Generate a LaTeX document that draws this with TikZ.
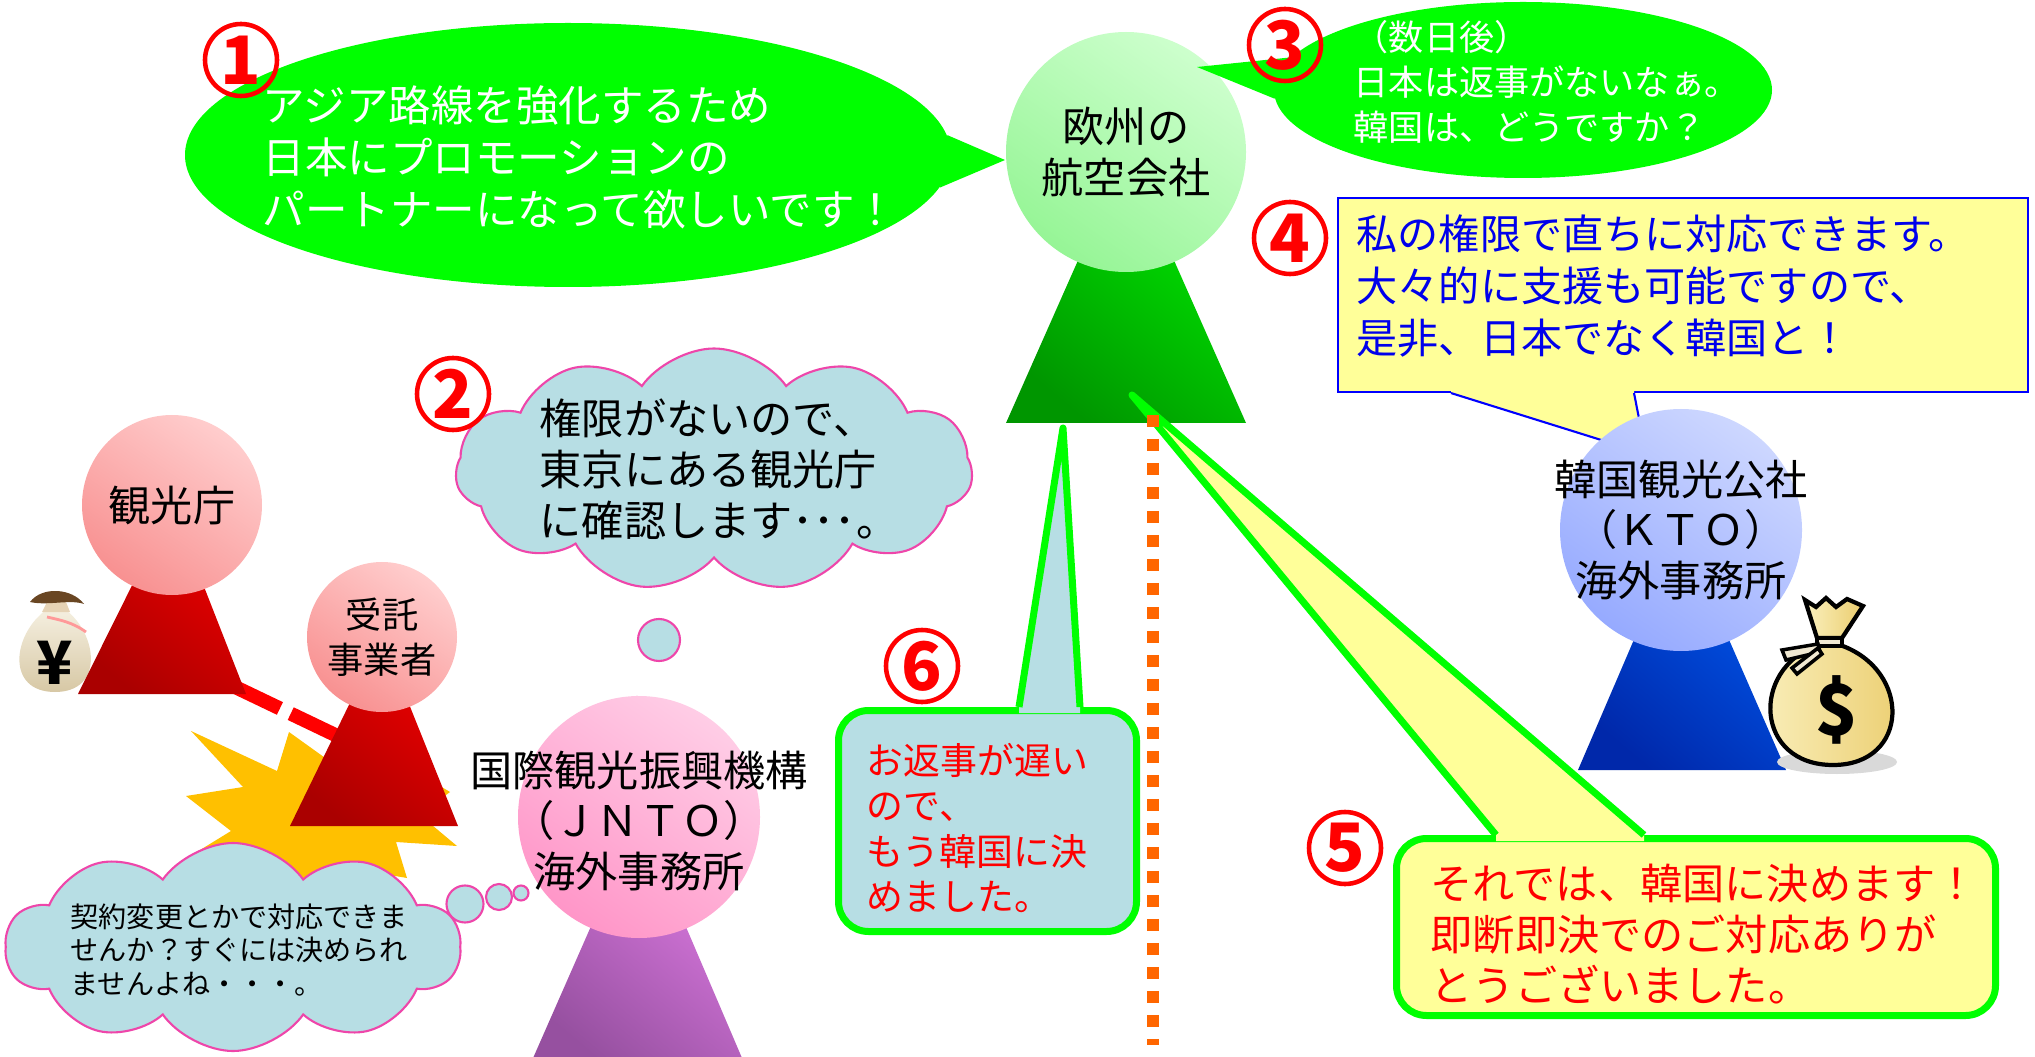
\documentclass[tikz,border=0pt]{standalone}
\usepackage{fontspec}
\newfontfamily\jp{Noto Sans CJK JP}
\usetikzlibrary{shapes.geometric,shapes.symbols,calc}

\definecolor{talkgreen}{RGB}{0,255,0}
\definecolor{noteyellow}{RGB}{255,255,153}
\definecolor{cloudblue}{RGB}{183,222,228}
\definecolor{cloudpink}{RGB}{238,70,170}
\definecolor{dotorange}{RGB}{255,102,0}
\definecolor{sayblue}{RGB}{0,0,235}
\definecolor{stargold}{RGB}{255,192,0}
\definecolor{airhi}{RGB}{205,255,205}
\definecolor{airlo}{RGB}{150,245,150}
\definecolor{airbody}{RGB}{0,235,0}
\definecolor{airdark}{RGB}{0,150,0}
\definecolor{pinkhi}{RGB}{255,205,205}
\definecolor{pinklo}{RGB}{248,145,145}
\definecolor{redbody}{RGB}{240,0,0}
\definecolor{reddark}{RGB}{170,0,0}
\definecolor{jntohi}{RGB}{255,205,230}
\definecolor{jntolo}{RGB}{255,150,200}
\definecolor{jntobody}{RGB}{225,125,230}
\definecolor{jntodark}{RGB}{150,80,160}
\definecolor{ktohi}{RGB}{205,215,255}
\definecolor{ktolo}{RGB}{150,170,255}
\definecolor{ktobody}{RGB}{0,90,240}
\definecolor{ktodark}{RGB}{0,40,170}
\definecolor{baggold}{RGB}{235,205,110}
\definecolor{bagpale}{RGB}{250,240,190}
\definecolor{bagbeige}{RGB}{240,232,210}
\definecolor{sacktan}{RGB}{215,200,165}

\tikzset{
  head/.style={circle, inner sep=0pt, minimum size=#1},
  orgname/.style={inner sep=0pt, align=center, font=\jp\fontsize{12}{14.3}\selectfont},
  num/.style={circle, draw=red, line width=1.3pt, minimum size=0.72cm, inner sep=0pt,
    text=red, font=\jp\bfseries\fontsize{19}{19}\selectfont},
  say/.style={anchor=west, inner sep=0pt, align=left},
  callout/.style={rectangle, draw=talkgreen, line width=0.07cm, rounded corners=0.3cm, inner sep=0pt},
  thought/.style={draw=cloudpink, fill=cloudblue, line width=0.6pt},
}

\begin{document}
\begin{tikzpicture}[x=1cm, y=1cm]
\useasboundingbox (0,0) rectangle (20.35,-10.57);

% first request
\node[ellipse, fill=talkgreen, minimum width=7.66cm, minimum height=2.64cm, inner sep=0pt] (talk1) at (5.68,-1.55) {};
\fill[talkgreen] (talk1.3) -- (10.05,-1.60) -- (talk1.-5) -- cycle;

% airline
\coordinate (airC) at (11.26,-1.52);
\shade[top color=airbody, bottom color=airdark, shading angle=-40] (10.06,-4.23) -- (airC) -- (12.46,-4.23) -- cycle;
\node[head=2.40cm, top color=airhi, bottom color=airlo, shading angle=-35] (air) at (airC) {};
\node[orgname] (airName) at (air) {欧州の\\航空会社};

% days later
\node[ellipse, fill=talkgreen, minimum width=4.98cm, minimum height=1.76cm, inner sep=0pt] (talk3) at (15.23,-0.90) {};
\fill[talkgreen] (talk3.172) -- (11.97,-0.67) -- (talk3.182) -- cycle;

% KTO offer box
\node[rectangle, draw=blue, fill=noteyellow, line width=0.6pt, minimum width=6.90cm, minimum height=1.94cm, inner sep=0pt] (note4) at (16.83,-2.95) {};
\fill[noteyellow] ($(note4.south)+(-2.32,0.05)$) -- ($(note4.south)+(-2.32,0)$) -- (16.46,-4.54) -- ($(note4.south)+(-0.49,0)$) -- ($(note4.south)+(-0.49,0.05)$) -- cycle;
\draw[blue, line width=0.6pt] ($(note4.south)+(-2.32,0)$) -- (16.46,-4.54) -- ($(note4.south)+(-0.49,0)$);

% KTO
\coordinate (ktoC) at (16.81,-5.30);
\shade[top color=ktobody, bottom color=ktodark, shading angle=-40] (15.78,-7.70) -- (ktoC) -- (17.86,-7.70) -- cycle;
\node[head=2.42cm, top color=ktohi, bottom color=ktolo, shading angle=-35] (kto) at (ktoC) {};
\node[orgname, font=\jp\fontsize{12}{14.5}\selectfont] (ktoName) at (kto) {韓国観光公社\\（ＫＴＯ）\\海外事務所};

% dollar bag
\fill[gray!30] (18.37,-7.62) ellipse (0.60 and 0.12);
\draw[line width=1.2pt, left color=bagpale, right color=baggold] (18.17,-6.45) .. controls (17.50,-6.70) and (17.55,-7.65) .. (18.33,-7.65) .. controls (19.10,-7.65) and (19.12,-6.70) .. (18.40,-6.45) -- cycle;
\draw[line width=1.2pt, left color=bagpale, right color=baggold] (18.17,-6.38) -- (18.05,-6.00) -- (18.16,-6.07) -- (18.26,-5.98) -- (18.36,-6.07) -- (18.47,-5.99) -- (18.63,-6.06) -- (18.42,-6.38) -- cycle;
\draw[line width=1.0pt, fill=bagbeige] (18.17,-6.38) rectangle (18.42,-6.46);
\draw[line width=1.0pt, fill=bagbeige] (18.18,-6.44) -- (17.82,-6.50) -- (17.86,-6.60) -- (18.20,-6.52) -- cycle;
\draw[line width=1.0pt, fill=bagbeige] (18.18,-6.48) -- (17.92,-6.68) -- (17.97,-6.74) -- (18.22,-6.54) -- cycle;
\node[font=\jp\bfseries\fontsize{20}{20}\selectfont, inner sep=0pt] (dollar) at (18.37,-7.10) {\$};

% burst behind the contractor
\fill[stargold] (1.91,-7.31) -- (2.77,-7.71) -- (2.89,-7.32) -- (3.35,-7.65) -- (4.00,-7.45) -- (4.30,-7.80)
  -- (4.50,-7.92) -- (4.20,-8.15) -- (4.57,-8.46) -- (3.96,-8.42) -- (4.07,-8.78) -- (3.60,-8.70)
  -- (3.20,-9.00) -- (2.90,-8.70) -- (2.52,-8.71) -- (2.55,-8.53) -- (1.87,-8.58) -- (2.31,-8.31)
  -- (1.86,-7.96) -- (2.43,-7.87) -- cycle;

% yen bag
\shade[top color=bagbeige!70, bottom color=sacktan] (0.46,-6.10) .. controls (0.12,-6.35) and (0.06,-6.92) .. (0.55,-6.92) .. controls (1.04,-6.92) and (0.98,-6.35) .. (0.66,-6.10) -- cycle;
\fill[bagbeige!80!brown] (0.42,-6.12) -- (0.47,-6.02) -- (0.66,-6.02) -- (0.70,-6.12) -- cycle;
\fill[brown!55!black] (0.30,-6.02) .. controls (0.42,-5.86) and (0.72,-5.88) .. (0.84,-6.04) .. controls (0.70,-5.99) and (0.48,-6.06) .. (0.30,-6.02) -- cycle;
\draw[pink!80!red, line width=0.8pt] (0.47,-6.17) .. controls (0.60,-6.20) and (0.72,-6.22) .. (0.86,-6.32);
\node[font=\jp\bfseries\fontsize{17}{17}\selectfont, inner sep=0pt] (yen) at (0.55,-6.63) {¥};

% tourism agency and contractor
\coordinate (agencyC) at (1.72,-5.05);
\coordinate (contractC) at (3.82,-6.37);
\coordinate (agencyFoot) at (2.33,-6.86);
\coordinate (contractFoot) at (3.50,-7.42);
\draw[red, line width=0.14cm, dash pattern=on 0.52cm off 0.12cm on 2cm] (agencyFoot) -- (contractFoot);
\shade[top color=redbody, bottom color=reddark, shading angle=-40] (0.78,-6.94) -- (agencyC) -- (2.46,-6.94) -- cycle;
\node[head=1.80cm, top color=pinkhi, bottom color=pinklo, shading angle=-35] (agency) at (agencyC) {};
\node[orgname] (agencyName) at (agency) {観光庁};
\shade[top color=redbody, bottom color=reddark, shading angle=-40] (2.90,-8.26) -- (contractC) -- (4.58,-8.26) -- cycle;
\node[head=1.50cm, top color=pinkhi, bottom color=pinklo, shading angle=-35] (contract) at (contractC) {};
\node[orgname, font=\jp\fontsize{10.3}{12.8}\selectfont] (contractName) at (contract) {受託\\事業者};

% JNTO thinking
\node[cloud, cloud puffs=11, cloud puff arc=110, aspect=2.1, thought, minimum width=5.17cm, minimum height=2.43cm, inner sep=0pt] (think2) at (7.14,-4.70) {};
\node[circle, thought, minimum size=0.42cm, inner sep=0pt] (puff2a) at (6.59,-6.40) {};
\node[circle, thought, minimum size=0.28cm, inner sep=0pt] (puff2b) at (6.37,-7.11) {};
\node[cloud, cloud puffs=10, cloud puff arc=110, aspect=2.2, thought, minimum width=4.55cm, minimum height=2.08cm, inner sep=0pt] (thinkLow) at (2.33,-9.47) {};
\node[circle, thought, minimum size=0.37cm, inner sep=0pt] (puffLa) at (4.65,-9.04) {};
\node[circle, thought, minimum size=0.26cm, inner sep=0pt] (puffLb) at (4.99,-8.97) {};
\node[circle, thought, minimum size=0.15cm, inner sep=0pt] (puffLc) at (5.21,-8.93) {};

% JNTO
\coordinate (jntoC) at (6.39,-8.17);
\shade[top color=jntobody, bottom color=jntodark, shading angle=-40] (5.30,-10.65) -- (jntoC) -- (7.45,-10.65) -- cycle;
\node[head=2.42cm, top color=jntohi, bottom color=jntolo, shading angle=-35] (jnto) at (jntoC) {};
\node[orgname] (jntoName) at ($(jnto)+(0,-0.04)$) {国際観光振興機構\\（ＪＮＴＯ）\\海外事務所};

% decided answer
\node[callout, fill=cloudblue, minimum width=2.98cm, minimum height=2.21cm] (note6) at (9.875,-8.21) {};
\fill[cloudblue] ($(note6.north)+(0.315,-0.06)$) -- ($(note6.north)+(0.315,0)$) -- (10.63,-4.28) -- ($(note6.north)+(0.925,0)$) -- ($(note6.north)+(0.925,-0.06)$) -- cycle;
\draw[talkgreen, line width=0.07cm, line join=round] ($(note6.north)+(0.315,0)$) -- (10.63,-4.28) -- ($(note6.north)+(0.925,0)$);

\node[callout, fill=noteyellow, minimum width=5.99cm, minimum height=1.77cm] (note5) at (16.96,-9.27) {};
\fill[noteyellow] ($(note5.north)+(-2.0,-0.06)$) -- ($(note5.north)+(-2.0,0)$) -- (11.32,-3.95) -- ($(note5.north)+(-0.52,0)$) -- ($(note5.north)+(-0.52,-0.06)$) -- cycle;
\draw[talkgreen, line width=0.07cm, line join=round] ($(note5.north)+(-2.0,0)$) -- (11.32,-3.95) -- ($(note5.north)+(-0.52,0)$);

% dotted divider
\coordinate (dotTop) at (11.53,-4.15);
\coordinate (dotEnd) at (11.53,-10.45);
\draw[dotorange, line width=0.12cm, dash pattern=on 0.12cm off 0.12cm] (dotTop) -- (dotEnd);

% texts
\node[say, text=white, font=\jp\fontsize{12.1}{14.8}\selectfont] (say1) at (2.62,-1.57) {アジア路線を強化するため\\日本にプロモーションの\\パートナーになって欲しいです！};
\node[say, font=\jp\fontsize{12}{14.5}\selectfont] (say2) at (5.39,-4.69) {権限がないので、\\東京にある観光庁\\に確認します･･･。};
\node[say, text=white, font=\jp\fontsize{10}{12.8}\selectfont] (say3) at (13.53,-0.82) {（数日後）\\日本は返事がないなぁ。\\韓国は、どうですか？};
\node[say, text=sayblue, font=\jp\fontsize{11.7}{14.8}\selectfont] (say4) at (13.56,-2.86) {私の権限で直ちに対応できます。\\大々的に支援も可能ですので、\\是非、日本でなく韓国と！};
\node[say, text=red, font=\jp\fontsize{12}{14.5}\selectfont] (say5) at (14.30,-9.34) {それでは、韓国に決めます！\\即断即決でのご対応ありが\\とうございました。};
\node[say, text=red, font=\jp\fontsize{10.5}{12.9}\selectfont] (say6) at (8.66,-8.28) {お返事が遅い\\ので、\\もう韓国に決\\めました。};
\node[say, font=\jp\fontsize{8}{9.5}\selectfont] (sayLow) at (0.70,-9.50) {契約変更とかで対応できま\\せんか？すぐには決められ\\ませんよね・・・。};

% step numbers
\node[num] (n1) at (2.41,-0.60) {1};
\node[num] (n2) at (4.53,-3.94) {2};
\node[num] (n3) at (12.85,-0.45) {3};
\node[num] (n4) at (12.90,-2.38) {4};
\node[num] (n5) at (13.45,-8.48) {5};
\node[num] (n6) at (9.22,-6.66) {6};
\end{tikzpicture}
\end{document}
